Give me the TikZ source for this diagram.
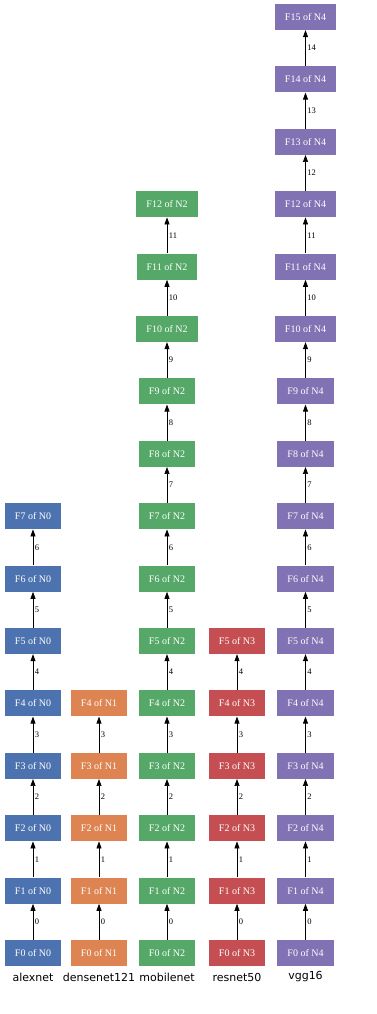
\documentclass[tikz,border=0pt]{standalone}
\usepackage{fontspec}
\setmainfont{Liberation Serif}
\newfontfamily\netfont{DejaVu Sans}
\usetikzlibrary{arrows.meta}
\definecolor{colA}{HTML}{4C72B0}
\definecolor{colB}{HTML}{DD8452}
\definecolor{colC}{HTML}{55A868}
\definecolor{colD}{HTML}{C44E52}
\definecolor{colE}{HTML}{8172B3}
\tikzset{
  fbox/.style={fill=#1, text=white, minimum height=26pt, inner xsep=10pt, font=\fontsize{10}{12}\selectfont},
  edge/.style={-{Triangle[length=7pt,width=5pt]}, line width=0.7pt},
  elab/.style={right, inner sep=1.5pt, font=\fontsize{8.5}{10}\selectfont},
  netname/.style={font=\netfont\fontsize{11}{13}\selectfont}
}
\begin{document}
\begin{tikzpicture}[x=1pt,y=1pt]
\useasboundingbox (0,0) rectangle (376,1014);

\foreach \i in {0,...,7} \node[fbox=colA] (A\i) at (33,{61+62.4*\i}) {F\i{} of N0};
\foreach \i in {0,...,4} \node[fbox=colB] (B\i) at (99,{61+62.4*\i}) {F\i{} of N1};
\foreach \i in {0,...,12} \node[fbox=colC] (C\i) at (167,{61+62.4*\i}) {F\i{} of N2};
\foreach \i in {0,...,5} \node[fbox=colD] (D\i) at (237,{61+62.4*\i}) {F\i{} of N3};
\foreach \i in {0,...,15} \node[fbox=colE] (E\i) at (305.5,{61+62.4*\i}) {F\i{} of N4};

\foreach \i [count=\j] in {0,...,6} \draw[edge](A\i)--(A\j) node[midway,elab]{\i};
\foreach \i [count=\j] in {0,...,3} \draw[edge](B\i)--(B\j) node[midway,elab]{\i};
\foreach \i [count=\j] in {0,...,11} \draw[edge](C\i)--(C\j) node[midway,elab]{\i};
\foreach \i [count=\j] in {0,...,4} \draw[edge](D\i)--(D\j) node[midway,elab]{\i};
\foreach \i [count=\j] in {0,...,14} \draw[edge](E\i)--(E\j) node[midway,elab]{\i};

\node[netname] (L0) at (33,37) {alexnet};
\node[netname] (L1) at (99,37) {densenet121};
\node[netname] (L2) at (167,37) {mobilenet};
\node[netname] (L3) at (237,37) {resnet50};
\node[netname] (L4) at (305.5,37) {vgg16};

\end{tikzpicture}
\end{document}
